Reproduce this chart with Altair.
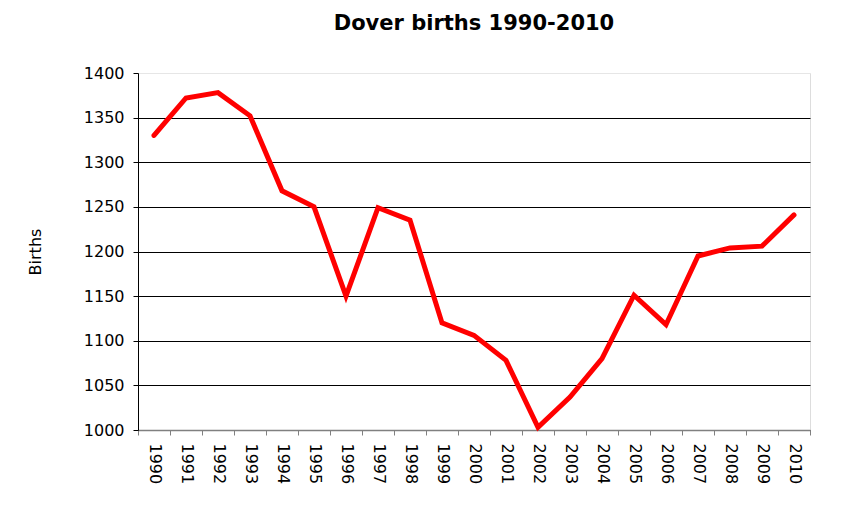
import altair as alt
import pandas as pd

years = [str(y) for y in range(1990, 2011)]
births = [1330, 1372, 1378, 1352, 1268, 1250, 1150, 1249, 1235, 1120,
          1106, 1078, 1003, 1037, 1080, 1151, 1118, 1195, 1204, 1206, 1241]
y_ticks = [1000, 1050, 1100, 1150, 1200, 1250, 1300, 1350, 1400]

df = pd.DataFrame({"Year": years, "Births": births})

chart = alt.Chart(df).mark_line(
    color="#ff0000", strokeWidth=5, strokeCap="round", strokeJoin="miter"
).encode(
    x=alt.X("Year:O", sort=years,
            scale=alt.Scale(type="band", paddingInner=0, paddingOuter=0),
            axis=alt.Axis(title=None, labelAngle=90, labelAlign="left",
                          labelBaseline="middle", labelFontSize=16,
                          labelFont="DejaVu Sans", labelColor="#000",
                          labelPadding=8, tickBand="extent", tickSize=5,
                          tickColor="#808080", domainColor="#808080",
                          domainWidth=1.5, grid=False)),
    y=alt.Y("Births:Q",
            scale=alt.Scale(domain=[1000, 1400], nice=False, zero=False),
            axis=alt.Axis(title="Births", values=y_ticks, format="d",
                          titleFont="DejaVu Sans",
                          titleFontSize=16, titleFontWeight="normal",
                          titleColor="#000", titlePadding=40,
                          labelFont="DejaVu Sans", labelFontSize=16,
                          labelColor="#000", labelPadding=9, tickSize=5,
                          tickColor="#000", domainColor="#000",
                          grid=True,
                          gridColor=alt.ExprRef(expr="datum.value == 1400 ? '#e6e6e6' : '#000000'"),
                          gridWidth=1, gridOpacity=1)),
).properties(
    width=672,
    height=357,
    title=alt.TitleParams("Dover births 1990-2010", font="DejaVu Sans",
                          fontSize=21, fontWeight="bold", color="#000",
                          anchor="middle", baseline="bottom", offset=10),
    autosize=alt.AutoSizeParams(type="none"),
    padding={"left": 130, "top": 65, "right": 25, "bottom": 70},
).configure_view(stroke=None).configure(background="white")

chart.save("out.html", embed_options={"renderer": "svg", "actions": False})
